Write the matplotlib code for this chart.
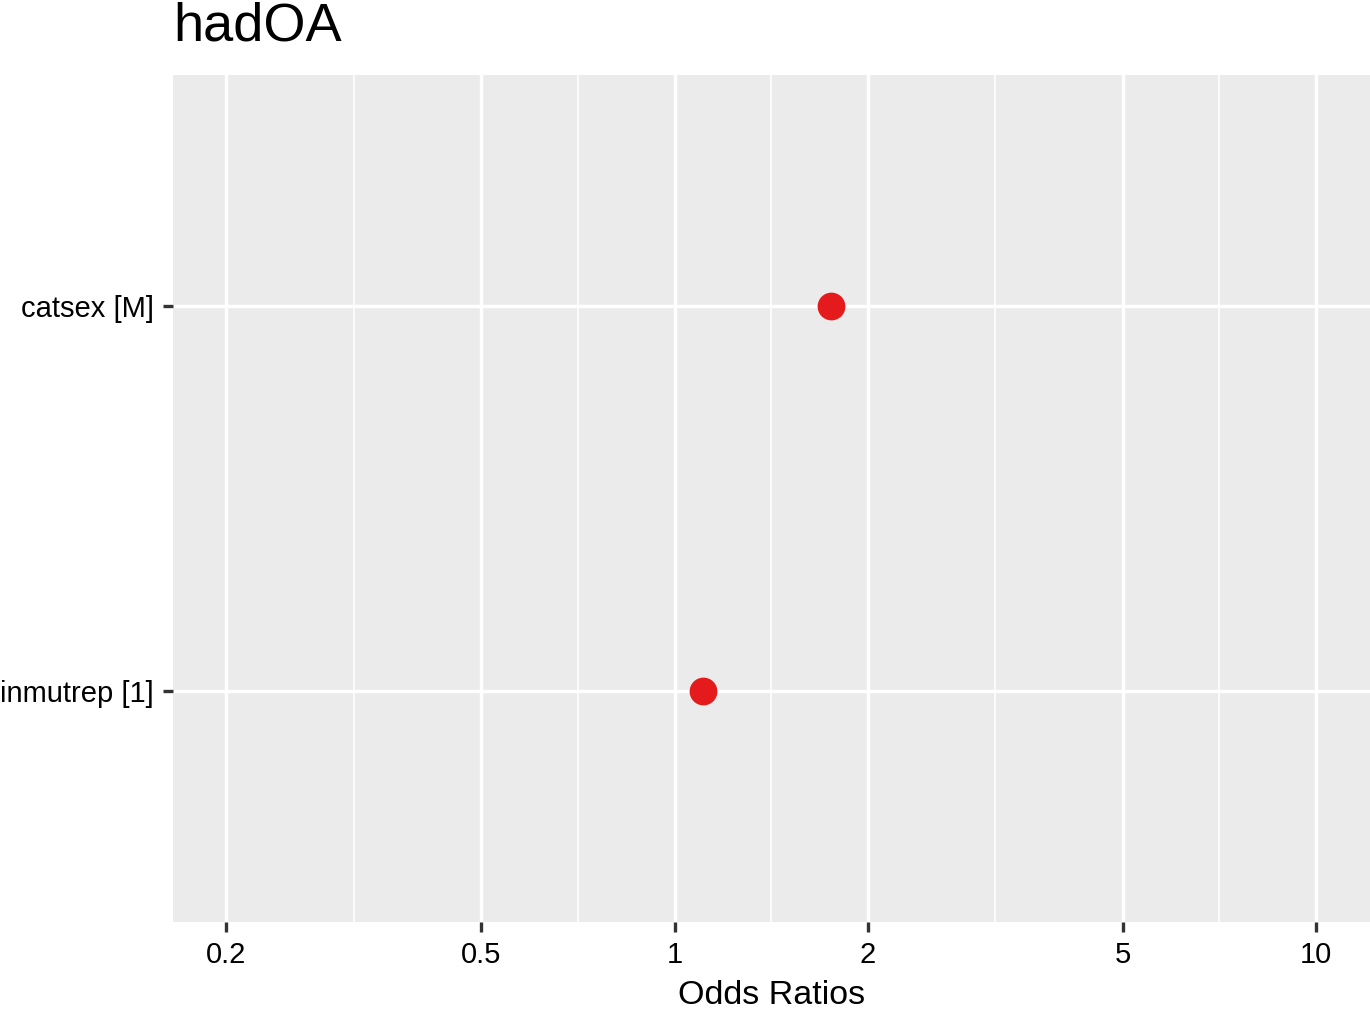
import matplotlib
matplotlib.use("Agg")
import matplotlib.pyplot as plt
import numpy as np

plt.rcParams['font.family'] = ['Liberation Sans', 'DejaVu Sans']

terms = ["inmutrep [1]", "catsex [M]"]
odds = [1.106, 1.751]
major_ticks = [0.2, 0.5, 1, 2, 5, 10]
tick_labels = ["0.2", "0.5", "1", "2", "5", "10"]
title = "hadOA"

fig = plt.figure(figsize=(13.7, 10.09), dpi=100)
ax = fig.add_axes([173 / 1370, 87 / 1009, 1197 / 1370, 847 / 1009])
ax.set_facecolor("#EBEBEB")

ax.set_xscale("log")
ax.set_xlim(0.1652, 12.14)
ax.set_ylim(0.4, 2.6)

minor = [np.sqrt(a * b) for a, b in zip(major_ticks[:-1], major_ticks[1:])]
ax.set_xticks(major_ticks)
ax.set_xticklabels(tick_labels)
ax.set_xticks(minor, minor=True)
ax.xaxis.set_minor_formatter(plt.NullFormatter())

ypos = np.arange(1, len(terms) + 1)
ax.set_yticks(ypos)
ax.set_yticklabels(terms)

ax.grid(True, which="major", color="white", linewidth=2.5)
ax.grid(True, which="minor", axis="x", color="white", linewidth=1.2)
ax.set_axisbelow(True)

ax.tick_params(axis="both", which="major", length=7.5, width=2.4, color="#333333",
               labelsize=21, labelcolor="black", pad=6)
ax.tick_params(axis="x", which="minor", length=0)

for s in ax.spines.values():
    s.set_visible(False)

ax.scatter(odds, ypos, s=400, color="#E41A1C", zorder=3, linewidths=0)

ax.set_xlabel("Odds Ratios", fontsize=24.5, labelpad=8)
ax.set_title(title, fontsize=39, loc="left", pad=25)

fig.savefig("out.png", dpi=100)
